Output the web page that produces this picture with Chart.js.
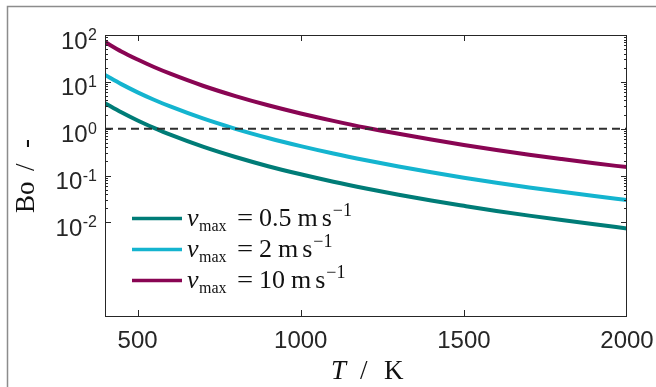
<!DOCTYPE html>
<html>
<head>
<meta charset="utf-8">
<script src="https://cdn.jsdelivr.net/npm/chart.js@4/dist/chart.umd.min.js"></script>
<style>
html,body{margin:0;padding:0;background:#fff;overflow:hidden}
#wrap{position:relative;width:656px;height:387px}
</style>
</head>
<body>
<div id="wrap"><canvas id="c" width="656" height="387"></canvas></div>
<script>
// ---- data ----
const temperatures = [400, 450, 500, 550, 600, 700, 800, 900, 1000, 1100, 1200, 1300, 1400, 1500, 1600, 1700, 1800, 1900, 2000];
const boV05 = [3.50, 2.23, 1.49, 1.04, 0.744, 0.413, 0.248, 0.158, 0.106, 0.0735, 0.0527, 0.0388, 0.0292, 0.0225, 0.0175, 0.0139, 0.0112, 0.0091, 0.0074];
const boV2  = [14.0, 8.93, 5.97, 4.15, 2.98, 1.65, 0.991, 0.632, 0.423, 0.294, 0.211, 0.155, 0.117, 0.0898, 0.0702, 0.0557, 0.0448, 0.0364, 0.0299];
const boV10 = [71.0, 44.6, 29.9, 20.7, 14.9, 8.25, 4.96, 3.16, 2.11, 1.47, 1.05, 0.776, 0.585, 0.449, 0.351, 0.278, 0.224, 0.182, 0.151];
const thresholdLine = [1, 1];
const thresholdT = [400, 2000];
const xTickValues = [500, 1000, 1500, 2000];
const yTickExponents = [2, 1, 0, -1, -2];
const seriesLabels = ['0.5', '2', '10'];
const seriesColors = ['#007c77', '#14b4cf', '#890553'];

const toPts = (xs, ys) => xs.map((x, i) => ({x: x, y: ys[i]}));

const AXC = '#262626';
const SANS = '"Liberation Sans", Arial, Helvetica, sans-serif';
const SERIF = '"Liberation Serif", "Times New Roman", serif';

const decor = {
  id: 'decor',
  beforeDraw(chart) {
    const ctx = chart.ctx;
    ctx.save();
    ctx.strokeStyle = '#8c8c8c';
    ctx.lineWidth = 1.5;
    ctx.beginPath();
    ctx.moveTo(7.5, 387); ctx.lineTo(7.5, 6.5); ctx.lineTo(656, 6.5);
    ctx.stroke();
    ctx.restore();
  },
  afterDatasetsDraw(chart) {
    const ctx = chart.ctx;
    const a = chart.chartArea;
    const xs = chart.scales.x, ys = chart.scales.y;
    ctx.save();
    // box
    ctx.strokeStyle = AXC;
    ctx.lineWidth = 1;
    ctx.strokeRect(a.left + 0.5, a.top + 0.5, a.right - a.left - 1, a.bottom - a.top);
    // x ticks
    ctx.beginPath();
    xTickValues.forEach(v => {
      const px = Math.round(xs.getPixelForValue(v)) + 0.5;
      if (px > a.right - 2) return;
      ctx.moveTo(px, a.bottom); ctx.lineTo(px, a.bottom - 6);
      ctx.moveTo(px, a.top); ctx.lineTo(px, a.top + 6);
    });
    // y ticks
    yTickExponents.forEach(e => {
      const py = Math.round(ys.getPixelForValue(Math.pow(10, e))) + 0.5;
      ctx.moveTo(a.left, py); ctx.lineTo(a.left + 6, py);
      ctx.moveTo(a.right, py); ctx.lineTo(a.right - 6, py);
    });
    const eMin = Math.min(...yTickExponents), eMax = Math.max(...yTickExponents);
    for (let e = eMin; e < eMax; e++) {
      for (let m = 2; m <= 9; m++) {
        const py = Math.round(ys.getPixelForValue(m * Math.pow(10, e))) + 0.5;
        ctx.moveTo(a.left, py); ctx.lineTo(a.left + 3, py);
        ctx.moveTo(a.right, py); ctx.lineTo(a.right - 3, py);
      }
    }
    ctx.stroke();

    // x tick labels
    ctx.fillStyle = AXC;
    ctx.font = '24px ' + SANS;
    ctx.textAlign = 'center';
    ctx.textBaseline = 'alphabetic';
    xTickValues.forEach(v => {
      ctx.fillText(String(v), xs.getPixelForValue(v), a.bottom + 32);
    });
    // y tick labels 10^e
    ctx.textAlign = 'left';
    yTickExponents.forEach(e => {
      const py = ys.getPixelForValue(Math.pow(10, e));
      const es = e < 0 ? '-' + Math.abs(e) : String(e);
      ctx.font = '16px ' + SANS;
      const ew = ctx.measureText(es).width;
      const ex = 97 - ew;
      ctx.fillText(es, ex, py + 5);
      ctx.font = '24px ' + SANS;
      const bw = ctx.measureText('10').width;
      ctx.fillText('10', ex - bw - 0.5, py + 13.5);
    });

    // x title: T / K
    ctx.fillStyle = '#111';
    ctx.font = 'italic 27px ' + SERIF;
    ctx.fillText('T', 331, 379);
    ctx.font = '27px ' + SERIF;
    ctx.fillText('/', 360, 379);
    ctx.fillText('K', 384, 379);

    // y title: Bo / -
    ctx.save();
    ctx.translate(34, (a.top + a.bottom) / 2);
    ctx.rotate(-Math.PI / 2);
    ctx.font = '27px ' + SERIF;
    ctx.fillText('Bo', -37.5, 0);
    ctx.fillText('/', 4.5, 0);
    ctx.fillText('-', 27.5, 0);
    ctx.restore();

    // legend
    const rowsY = [218.5, 249.5, 280.5];
    seriesLabels.forEach((lab, i) => {
      const y = rowsY[i];
      ctx.strokeStyle = seriesColors[i];
      ctx.lineWidth = 3.5;
      ctx.beginPath(); ctx.moveTo(132, y); ctx.lineTo(182, y); ctx.stroke();
      const base = y + 7.5;
      ctx.fillStyle = '#111';
      let x = 187;
      ctx.font = 'italic 26px ' + SERIF;
      ctx.fillText('v', x, base);
      x += ctx.measureText('v').width + 0.5;
      ctx.font = '16px ' + SERIF;
      ctx.fillText('max', x, base + 4.5);
      ctx.font = '26px ' + SERIF;
      ctx.save();
      ctx.translate(237, base);
      ctx.scale(1.1, 1);
      ctx.fillText('=', 0, 0);
      ctx.restore();
      x = 259;
      ctx.fillText(lab, x, base);
      x += ctx.measureText(lab).width + 6;
      ctx.fillText('m', x, base);
      x += ctx.measureText('m').width + 4;
      ctx.fillText('s', x, base);
      x += ctx.measureText('s').width + 1;
      ctx.font = '18px ' + SERIF;
      ctx.fillText('\u22121', x, base - 10.5);
    });
    ctx.restore();
  }
};

const common = {pointRadius: 0, borderWidth: 4, fill: false, clip: 0, cubicInterpolationMode: 'monotone'};

new Chart(document.getElementById('c'), {
  type: 'line',
  data: {
    datasets: [
      {data: toPts(thresholdT, thresholdLine), borderColor: '#2e2e2e', borderWidth: 2, borderDash: [8, 5], pointRadius: 0, fill: false, clip: 0},
      Object.assign({data: toPts(temperatures, boV10), borderColor: seriesColors[2]}, common),
      Object.assign({data: toPts(temperatures, boV2), borderColor: seriesColors[1]}, common),
      Object.assign({data: toPts(temperatures, boV05), borderColor: seriesColors[0]}, common)
    ]
  },
  options: {
    responsive: false,
    animation: false,
    events: [],
    layout: {padding: {left: 105, right: 29, top: 35, bottom: 71}},
    plugins: {legend: {display: false}, tooltip: {enabled: false}},
    scales: {
      x: {type: 'linear', min: 400, max: 2000, display: false},
      y: {type: 'logarithmic', min: 1e-4, max: 100, display: false}
    }
  },
  plugins: [decor]
});
</script>
</body>
</html>
